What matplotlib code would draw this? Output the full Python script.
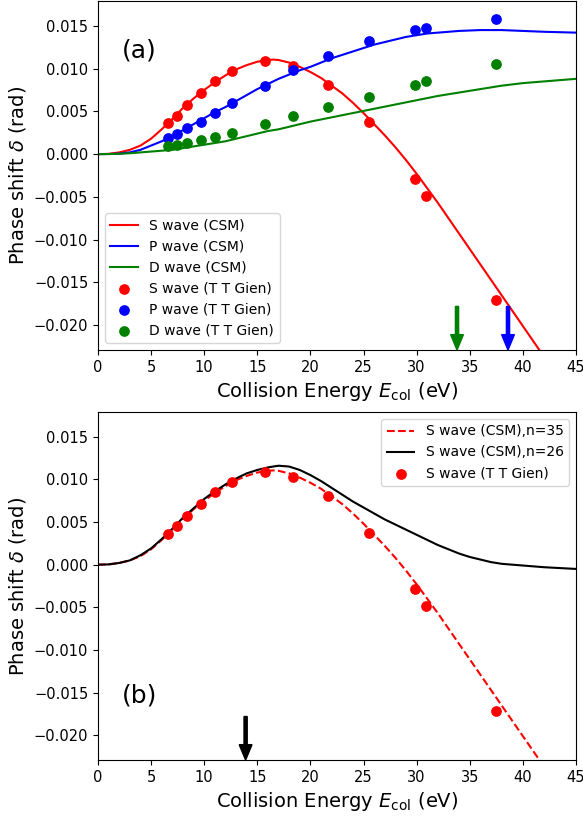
import matplotlib
matplotlib.use("Agg")
import matplotlib.pyplot as plt
import numpy as np

# measured points (T T Gien)
e_pts = [6.6, 7.4, 8.4, 9.7, 11.0, 12.6, 15.7, 18.4, 21.7, 25.5, 29.8, 30.9, 37.5]
s_pts = [0.0036, 0.0045, 0.0057, 0.0071, 0.0085, 0.0097, 0.0109, 0.0103, 0.0081, 0.0037, -0.0029, -0.0049, -0.0171]
p_pts = [0.0019, 0.0024, 0.0030, 0.0038, 0.0048, 0.0060, 0.0080, 0.0098, 0.0115, 0.0132, 0.0145, 0.0148, 0.0158]
d_pts = [0.0009, 0.0011, 0.0013, 0.0016, 0.0020, 0.0025, 0.0035, 0.0044, 0.0055, 0.0067, 0.0081, 0.0085, 0.0105]

# CSM curves
e_s = [0, 1, 2, 3, 4, 5, 6, 7, 8, 9, 10, 11, 12, 13, 14, 15, 16, 16.5, 17, 18, 19, 20,
       21, 22, 23, 24, 25, 26, 27, 28, 29, 30, 31, 32, 33, 34, 35, 36, 37, 38, 39, 40, 41, 42]
s_csm = [0.0, 0.00003, 0.0002, 0.0005, 0.0010, 0.0018, 0.0029, 0.0041, 0.0054, 0.0065, 0.0075,
         0.0084, 0.0092, 0.0099, 0.0104, 0.0108, 0.0110, 0.01105, 0.0110, 0.0107, 0.0102, 0.0096,
         0.0089, 0.0080, 0.0071, 0.0060, 0.0048, 0.0035, 0.0022, 0.0008, -0.0007, -0.0023, -0.0040,
         -0.0057, -0.0075, -0.0093, -0.0111, -0.0129, -0.0147, -0.0165, -0.0183, -0.0201, -0.0219, -0.0237]

e_p = [0, 1, 2, 3, 4, 5, 6, 7, 8, 9, 10, 11, 12, 13, 14, 15, 16, 17, 18, 19, 20, 21, 22, 23,
       24, 25, 26, 27, 28, 29, 30, 31, 32, 33, 34, 36, 38, 40, 42, 45]
p_csm = [0.0, 0.00001, 0.00005, 0.0002, 0.0005, 0.0010, 0.0015, 0.0021, 0.0028, 0.0035, 0.0042,
         0.0049, 0.0055, 0.0062, 0.0069, 0.0076, 0.0082, 0.0088, 0.0093, 0.0098, 0.0102, 0.0107,
         0.0112, 0.0116, 0.0120, 0.0124, 0.0128, 0.0131, 0.0134, 0.0137, 0.0139, 0.0141, 0.0142,
         0.0143, 0.0144, 0.0145, 0.0145, 0.0144, 0.0143, 0.0142]

e_d = [0, 1, 2, 3, 4, 5, 6, 7, 8, 9, 10, 11, 12, 13, 14, 15, 16, 17, 18, 19, 20, 22, 24, 26,
       28, 30, 32, 34, 36, 38, 40, 42, 45]
d_csm = [0.0, 0.00001, 0.00004, 0.0001, 0.0002, 0.0003, 0.0004, 0.0005, 0.0007, 0.0009, 0.0011,
         0.0013, 0.0015, 0.0018, 0.0021, 0.0024, 0.0027, 0.0029, 0.0032, 0.0035, 0.0038, 0.0043,
         0.0048, 0.0053, 0.0058, 0.0063, 0.0068, 0.0072, 0.0076, 0.0080, 0.0083, 0.0085, 0.0088]

e_26 = [0, 1, 2, 3, 4, 5, 6, 7, 8, 9, 10, 11, 12, 13, 14, 15, 16, 17, 18, 19, 20, 21, 22, 23,
        24, 25, 26, 27, 28, 29, 30, 31, 32, 33, 34, 35, 36, 37, 38, 39, 40, 42, 45]
s_26 = [0.0, 0.00003, 0.0002, 0.0005, 0.0011, 0.0019, 0.0030, 0.0042, 0.0055, 0.0066, 0.0077,
        0.0086, 0.0094, 0.0101, 0.0107, 0.0111, 0.0114, 0.0116, 0.0115, 0.0111, 0.0105, 0.0098,
        0.0090, 0.0082, 0.0074, 0.0067, 0.0060, 0.0053, 0.0047, 0.0041, 0.0035, 0.0029, 0.0023,
        0.0018, 0.0013, 0.0009, 0.0006, 0.0003, 0.0001, 0.0000, -0.0001, -0.0003, -0.0005]

# threshold arrows (x, colour)
arrows_a = [(33.8, "green"), (38.6, "blue")]
arrows_b = [(13.9, "black")]
arrow_top = -0.0178
arrow_bot = -0.0229

xlim = (0, 45)
ylim = (-0.0229, 0.0179)

plt.rcParams["font.family"] = "DejaVu Sans"

fig = plt.figure(figsize=(5.83, 8.19), dpi=100)
ax1 = fig.add_axes([0.168, 0.5726, 0.820, 0.4262])
ax2 = fig.add_axes([0.168, 0.0720, 0.820, 0.4250])


def draw_arrows(ax, arrows):
    for x, c in arrows:
        ax.arrow(x, arrow_top, 0, arrow_bot - arrow_top, width=0.3, head_width=1.2,
                 head_length=0.0018, length_includes_head=True, color=c, zorder=4)


# panel (a)
ax1.plot(e_s, s_csm, color="red", lw=1.5, label="S wave (CSM)")
ax1.plot(e_p, p_csm, color="blue", lw=1.5, label="P wave (CSM)")
ax1.plot(e_d, d_csm, color="green", lw=1.5, label="D wave (CSM)")
ax1.scatter(e_pts, s_pts, color="red", s=45, label="S wave (T T Gien)", zorder=3)
ax1.scatter(e_pts, p_pts, color="blue", s=45, label="P wave (T T Gien)", zorder=3)
ax1.scatter(e_pts, d_pts, color="green", s=45, label="D wave (T T Gien)", zorder=3)
draw_arrows(ax1, arrows_a)
ax1.text(3.9, 0.0121, "(a)", fontsize=18, ha="center", va="center")
ax1.legend(loc="lower left", fontsize=10)

# panel (b)
ax2.plot(e_s, s_csm, color="red", ls="--", lw=1.5, label="S wave (CSM),n=35")
ax2.plot(e_26, s_26, color="black", lw=1.5, label="S wave (CSM),n=26")
ax2.scatter(e_pts, s_pts, color="red", s=45, label="S wave (T T Gien)", zorder=3)
draw_arrows(ax2, arrows_b)
ax2.text(3.9, -0.0153, "(b)", fontsize=18, ha="center", va="center")
ax2.legend(loc="upper right", fontsize=10)

for ax in (ax1, ax2):
    ax.set_xlim(*xlim)
    ax.set_ylim(*ylim)
    ax.set_xticks(np.arange(0, 46, 5))
    ax.set_yticks([-0.020, -0.015, -0.010, -0.005, 0.0, 0.005, 0.010, 0.015])
    ax.tick_params(labelsize=10.5)
    ax.set_xlabel(r"Collision Energy $E_{\rm col}$ (eV)", fontsize=14)
    ax.set_ylabel(r"Phase shift $\delta$ (rad)", fontsize=14)

fig.savefig("out.png", dpi=100)
